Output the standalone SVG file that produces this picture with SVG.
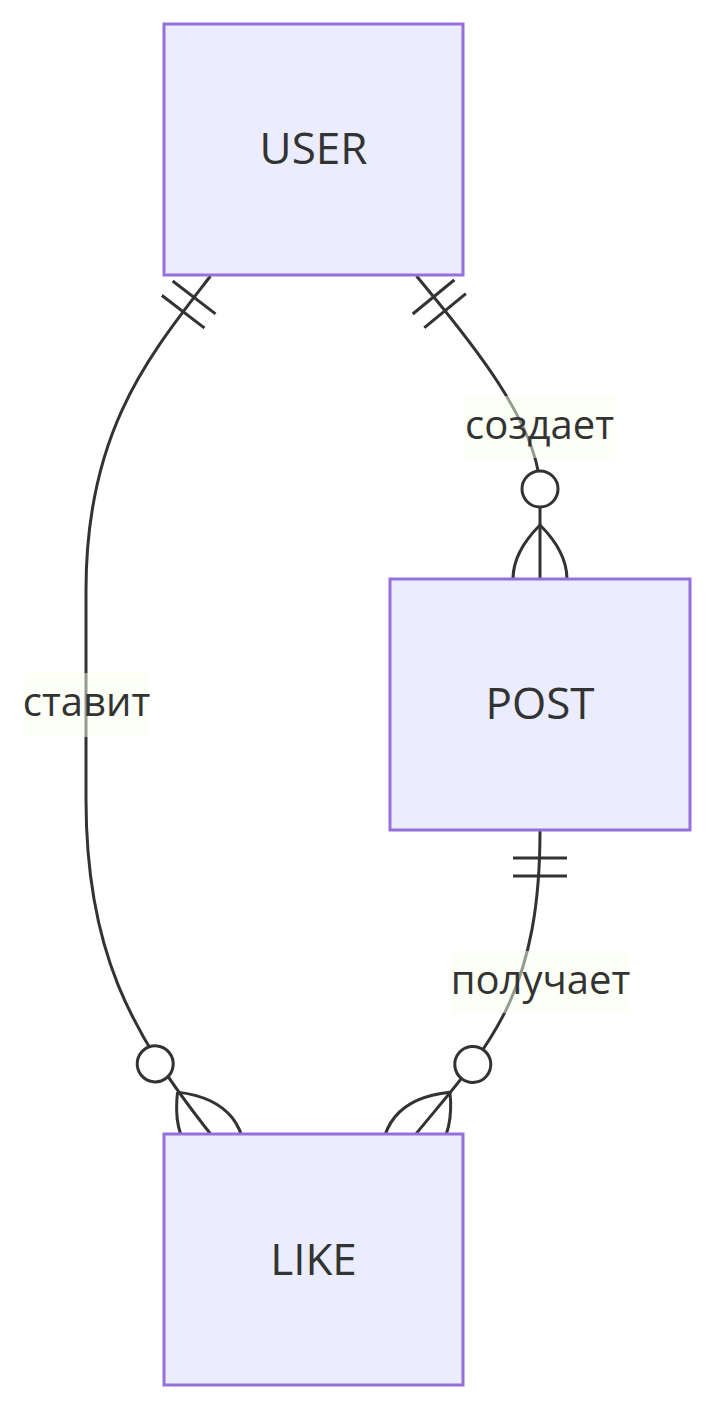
<svg xmlns="http://www.w3.org/2000/svg" width="714" height="1410" viewBox="0 0 714 1410">
<style>
.edge{fill:none;stroke:#333333;stroke-width:3}
.mk{fill:none;stroke:#333333;stroke-width:1}
.box{fill:#ECECFF;stroke:#9370DB;stroke-width:3}
.ename{font-family:"Open Sans","Noto Sans",sans-serif;font-size:44px;fill:#333333;text-anchor:middle}
.lbg{fill:#f9ffec;opacity:0.5}
.ltxt{font-family:"Open Sans","Noto Sans",sans-serif;font-size:40px;fill:#333333;text-anchor:middle}
</style>
<defs>
<marker id="onlyOneStart" viewBox="0 0 18 18" markerUnits="userSpaceOnUse" markerWidth="54" markerHeight="54" refX="0" refY="9" orient="auto">
<path class="mk" d="M9,0 L9,18 M15,0 L15,18"/>
</marker>
<marker id="zeroOrMoreEnd" viewBox="0 0 57 36" markerUnits="userSpaceOnUse" markerWidth="171" markerHeight="108" refX="39" refY="18" orient="auto">
<circle cx="9" cy="18" r="6" fill="#ffffff" stroke="#333333" stroke-width="1"/>
<path class="mk" d="M21,18 Q39,0 57,18 Q39,36 21,18"/>
</marker>
</defs>
<g id="connectors">
<path id="e-user-post" class="edge" d="M416.5,276 C455,323 540,420 540,490 L540,579" marker-start="url(#onlyOneStart)" marker-end="url(#zeroOrMoreEnd)"/>
<path id="e-user-like" class="edge" d="M210.5,276 C150,355 86,430 86,590 L86,800 C86,950 130,1032 211,1134.5" marker-start="url(#onlyOneStart)" marker-end="url(#zeroOrMoreEnd)"/>
<path id="e-post-like" class="edge" d="M540,831 C540,1000 485.4,1049 415.8,1134.1" marker-start="url(#onlyOneStart)" marker-end="url(#zeroOrMoreEnd)"/>
</g>
<g id="labels">
<g id="l-sozdaet"><rect class="lbg" x="464" y="396" width="151" height="62"/><text class="ltxt" x="539.5" y="439">создает</text></g>
<g id="l-stavit"><rect class="lbg" x="24" y="673" width="125" height="64"/><text class="ltxt" x="86.5" y="716">ставит</text></g>
<g id="l-poluchaet"><rect class="lbg" x="452" y="951" width="177" height="62"/><text class="ltxt" x="540.5" y="994">получает</text></g>
</g>
<g id="USER"><rect class="box" x="164" y="24" width="299" height="251"/><text class="ename" x="313.5" y="164">USER</text></g>
<g id="POST"><rect class="box" x="390" y="579" width="300" height="251"/><text class="ename" x="540" y="719">POST</text></g>
<g id="LIKE"><rect class="box" x="164" y="1134" width="299" height="251"/><text class="ename" x="313.5" y="1275">LIKE</text></g>
</svg>
